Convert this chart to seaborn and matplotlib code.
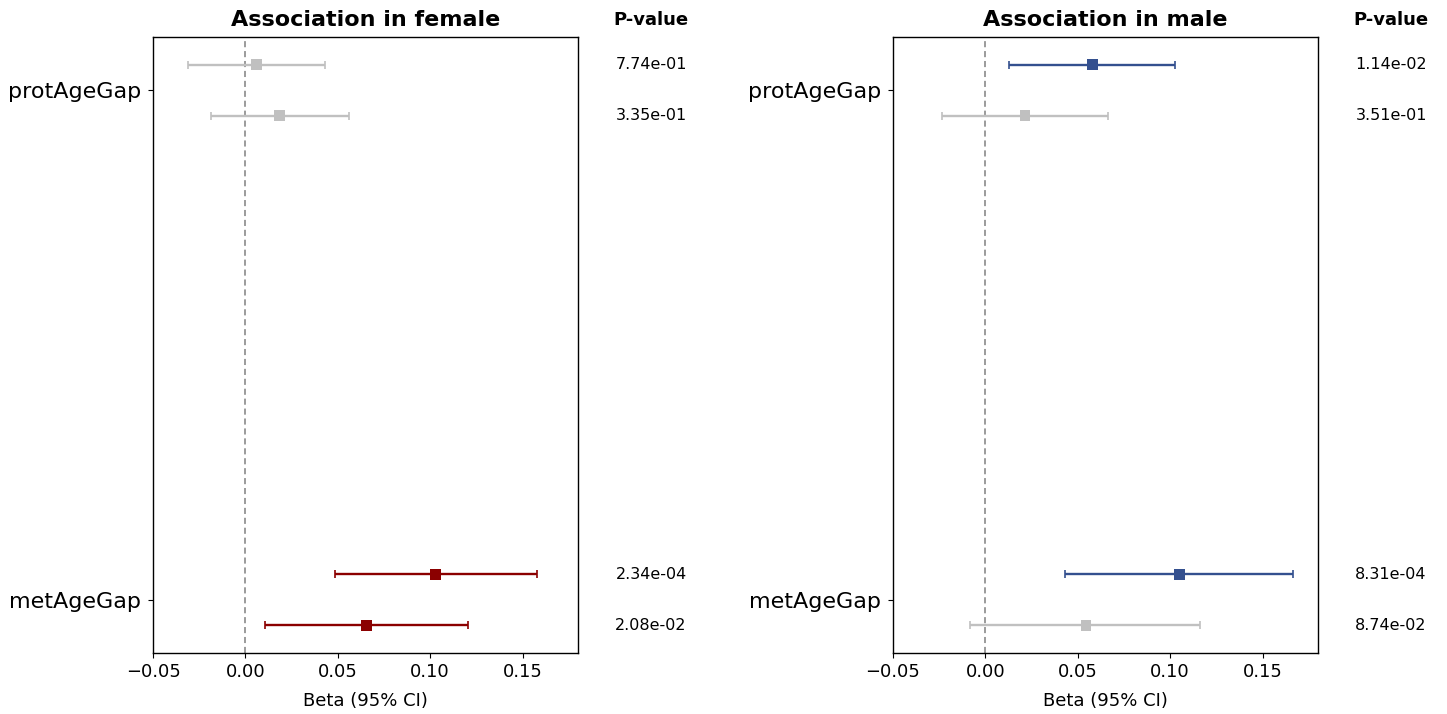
import numpy as np
import pandas as pd
import matplotlib
matplotlib.use("Agg")
import matplotlib.pyplot as plt
import seaborn as sns

# Outcomes (two models per outcome, listed top to bottom within each outcome)
outcomes = ["protAgeGap", "protAgeGap", "metAgeGap", "metAgeGap"]
model_idx = [0, 1, 0, 1]

# Female estimates
female_beta = [0.006, 0.0185, 0.103, 0.0655]
female_lo = [-0.031, -0.0185, 0.0487, 0.0105]
female_hi = [0.043, 0.0563, 0.158, 0.1205]
female_p = [7.74e-01, 3.35e-01, 2.34e-04, 2.08e-02]

# Male estimates
male_beta = [0.058, 0.0215, 0.105, 0.0545]
male_lo = [0.0128, -0.0233, 0.0432, -0.0081]
male_hi = [0.1028, 0.0666, 0.1667, 0.1160]
male_p = [1.14e-02, 3.51e-01, 8.31e-04, 8.74e-02]

outcome_order = ["metAgeGap", "protAgeGap"]
xticks = [-0.05, 0.00, 0.05, 0.10, 0.15]

sns.set_style("ticks", {"axes.edgecolor": "black", "xtick.color": "black",
                        "ytick.color": "black", "text.color": "black",
                        "axes.labelcolor": "black"})
plt.rcParams["font.family"] = ["DejaVu Sans"]

fig = plt.figure(figsize=(14.47, 7.14), dpi=100)
ax_f = fig.add_axes([153 / 1447, 61 / 714, 425 / 1447, 616 / 714])
ax_m = fig.add_axes([893 / 1447, 61 / 714, 425 / 1447, 616 / 714])

GRAY = "#c0c0c0"
panels = [
    (ax_f, "Association in female", female_beta, female_lo, female_hi, female_p, "#8b0000"),
    (ax_m, "Association in male", male_beta, male_lo, male_hi, male_p, "#34508f"),
]

for ax, title, beta, lo, hi, pv, sig_color in panels:
    df = pd.DataFrame({"outcome": outcomes, "model": model_idx, "beta": beta,
                       "lo": lo, "hi": hi, "p": pv})
    df["y"] = [outcome_order.index(o) + (0.05 if m == 0 else -0.05)
               for o, m in zip(df["outcome"], df["model"])]
    df["color"] = [sig_color if p < 0.05 else GRAY for p in df["p"]]

    ax.axvline(0, color="gray", linestyle=(0, (4, 2.5)), linewidth=1.1, zorder=1)
    for _, r in df.iterrows():
        ax.errorbar(r["beta"], r["y"],
                    xerr=[[r["beta"] - r["lo"]], [r["hi"] - r["beta"]]],
                    fmt="none", ecolor=r["color"], elinewidth=1.7,
                    capsize=3.2, capthick=1.2, zorder=2)
    sns.scatterplot(data=df, x="beta", y="y", hue="color",
                    palette={c: c for c in df["color"].unique()},
                    marker="s", s=60, edgecolor="none", legend=False,
                    ax=ax, zorder=3)

    for _, r in df.iterrows():
        ax.text(1.172, r["y"], f"{r['p']:.2e}", transform=ax.get_yaxis_transform(),
                ha="center", va="center", fontsize=11.5)
    ax.text(1.172, 1.0276, "P-value", transform=ax.transAxes,
            ha="center", va="center", fontsize=13, fontweight="bold")

    ax.set_xlim(-0.05, 0.18)
    ax.set_ylim(-0.104, 1.104)
    ax.set_xticks(xticks)
    ax.set_xticklabels([f"{t:.2f}".replace("-", "\u2212") for t in xticks], fontsize=12.9)
    ax.set_yticks(range(len(outcome_order)))
    ax.set_yticklabels(outcome_order, fontsize=16)
    ax.tick_params(axis="y", pad=5)
    ax.set_xlabel("Beta (95% CI)", fontsize=13, labelpad=8)
    ax.set_ylabel("")
    ax.set_title(title, fontsize=16, fontweight="bold", pad=8)
    for sp in ax.spines.values():
        sp.set_visible(True)
        sp.set_linewidth(1.0)

fig.savefig("out.png", dpi=100)
